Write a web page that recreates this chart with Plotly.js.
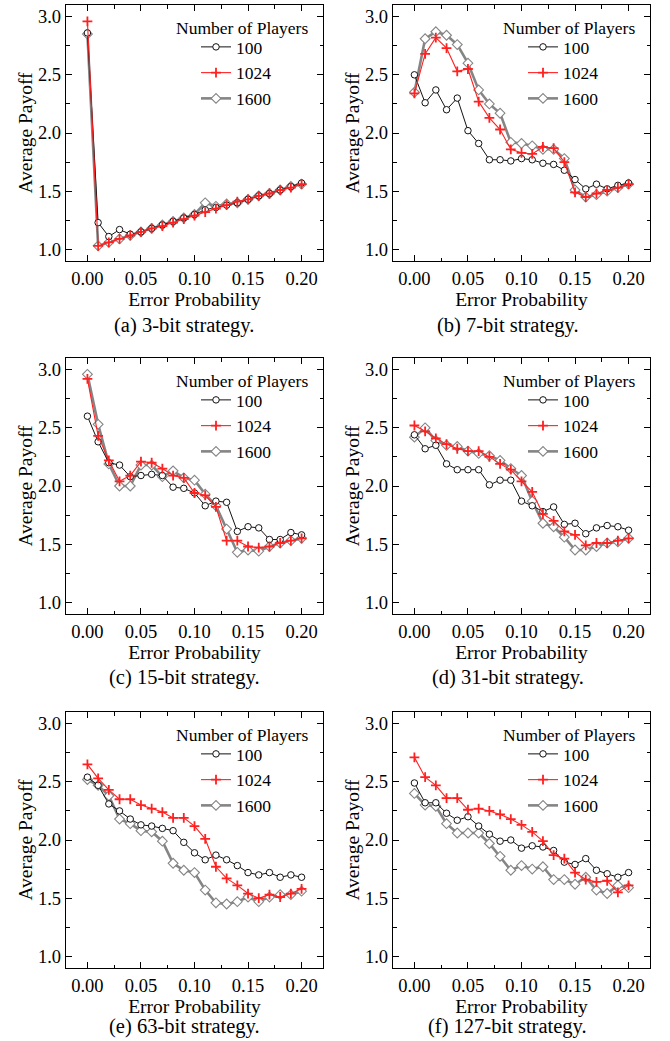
<!DOCTYPE html>
<html>
<head>
<meta charset="utf-8">
<script src="https://cdn.plot.ly/plotly-3.0.1.min.js"></script>
<style>html,body{margin:0;padding:0;background:#fff;}#chart{width:670px;height:1041px;}</style>
</head>
<body>
<div id="chart"></div>
<script>
// Error probability values (x)
const errorProb = [0.00,0.01,0.02,0.03,0.04,0.05,0.06,0.07,0.08,0.09,0.10,0.11,0.12,0.13,0.14,0.15,0.16,0.17,0.18,0.19,0.20];
const seriesNames = ["100", "1024", "1600"];
const captions = ["(a) 3-bit strategy.", "(b) 7-bit strategy.", "(c) 15-bit strategy.", "(d) 31-bit strategy.", "(e) 63-bit strategy.", "(f) 127-bit strategy."];
const xTickVals = [0.00, 0.05, 0.10, 0.15, 0.20];
const yTickVals = [1.0, 1.5, 2.0, 2.5, 3.0];

// (a) 3-bit
const a100  = [2.86,1.23,1.11,1.17,1.13,1.15,1.18,1.21,1.24,1.27,1.30,1.34,1.36,1.38,1.40,1.43,1.46,1.48,1.51,1.54,1.57];
const a1024 = [2.96,1.03,1.06,1.09,1.12,1.15,1.18,1.20,1.23,1.26,1.29,1.32,1.35,1.38,1.41,1.43,1.46,1.48,1.51,1.53,1.56];
const a1600 = [2.85,1.03,1.06,1.09,1.12,1.15,1.18,1.21,1.24,1.27,1.30,1.40,1.37,1.39,1.40,1.43,1.46,1.48,1.51,1.54,1.56];
// (b) 7-bit
const b100  = [2.50,2.26,2.37,2.20,2.30,2.02,1.91,1.77,1.77,1.76,1.78,1.77,1.74,1.73,1.68,1.60,1.52,1.56,1.52,1.55,1.57];
const b1024 = [2.34,2.68,2.82,2.73,2.53,2.55,2.27,2.13,2.03,1.86,1.83,1.82,1.88,1.87,1.75,1.49,1.45,1.48,1.51,1.53,1.56];
const b1600 = [2.35,2.81,2.87,2.84,2.76,2.60,2.37,2.25,2.17,1.92,1.91,1.89,1.86,1.86,1.78,1.51,1.45,1.47,1.50,1.53,1.56];
// (c) 15-bit
const c100  = [2.60,2.38,2.20,2.18,2.08,2.09,2.10,2.09,1.99,1.98,1.94,1.83,1.87,1.86,1.61,1.65,1.64,1.54,1.54,1.60,1.58];
const c1024 = [2.92,2.43,2.22,2.04,2.09,2.21,2.20,2.15,2.09,2.07,1.94,1.92,1.82,1.53,1.53,1.48,1.47,1.48,1.51,1.53,1.55];
const c1600 = [2.96,2.53,2.19,2.00,2.00,2.18,2.18,2.08,2.13,2.07,2.05,1.93,1.83,1.63,1.43,1.45,1.44,1.48,1.51,1.53,1.55];
// (d) 31-bit
const d100  = [2.44,2.32,2.35,2.19,2.14,2.14,2.14,2.01,2.05,2.05,1.87,1.83,1.78,1.82,1.67,1.68,1.59,1.64,1.66,1.65,1.62];
const d1024 = [2.52,2.47,2.41,2.36,2.32,2.30,2.30,2.25,2.19,2.14,2.04,1.95,1.76,1.70,1.61,1.58,1.49,1.51,1.51,1.53,1.55];
const d1600 = [2.42,2.50,2.39,2.35,2.34,2.30,2.28,2.26,2.22,2.15,2.09,1.87,1.68,1.65,1.56,1.45,1.45,1.48,1.51,1.52,1.55];
// (e) 63-bit
const e100  = [2.54,2.47,2.31,2.25,2.18,2.13,2.12,2.10,2.08,1.98,1.89,1.83,1.87,1.83,1.78,1.72,1.70,1.72,1.68,1.70,1.68];
const e1024 = [2.65,2.53,2.43,2.35,2.35,2.30,2.27,2.24,2.19,2.19,2.12,2.01,1.77,1.67,1.61,1.54,1.50,1.53,1.51,1.54,1.58];
const e1600 = [2.52,2.47,2.38,2.18,2.14,2.08,2.07,1.99,1.80,1.74,1.72,1.57,1.46,1.45,1.47,1.51,1.47,1.51,1.53,1.53,1.56];
// (f) 127-bit
const f100  = [2.49,2.32,2.32,2.23,2.17,2.20,2.12,2.05,1.99,2.00,1.93,1.95,1.94,1.91,1.81,1.79,1.84,1.74,1.71,1.68,1.72];
const f1024 = [2.71,2.54,2.47,2.36,2.36,2.26,2.27,2.25,2.22,2.18,2.13,2.07,1.99,1.87,1.84,1.72,1.66,1.64,1.65,1.55,1.61];
const f1600 = [2.40,2.30,2.29,2.14,2.06,2.06,2.06,1.97,1.86,1.74,1.78,1.75,1.77,1.66,1.66,1.62,1.68,1.57,1.54,1.61,1.59];

const panels = [
  [a100, a1024, a1600], [b100, b1024, b1600],
  [c100, c1024, c1600], [d100, d1024, d1600],
  [e100, e1024, e1600], [f100, f1024, f1600]
];

const W = 670, H = 1041;
const FONT = "Liberation Serif, Times New Roman, serif";
const colLeft = [66, 393], boxW = 257;
const rowTop = [5, 358, 712], boxH = 256;
const captionY = [325, 677, 1026];

const styles = {
  "100":  {line: {color: "#111111", width: 1}, marker: {symbol: "circle", size: 6.5, color: "#ffffff", line: {color: "#111111", width: 1}}, rank: 1},
  "1024": {line: {color: "#ff2020", width: 1.1}, marker: {symbol: "cross-thin", size: 7, color: "#ff2020", line: {color: "#ff2020", width: 1.8}}, rank: 2},
  "1600": {line: {color: "#858585", width: 2.6}, marker: {symbol: "diamond", size: 7.5, color: "#ffffff", line: {color: "#858585", width: 1.1}}, rank: 3}
};
const drawOrder = [2, 0, 1]; // 1600 bottom, 100, 1024 top

const data = [];
const layout = {
  width: W, height: H,
  margin: {l: 0, r: 0, t: 0, b: 0},
  paper_bgcolor: "#ffffff", plot_bgcolor: "#ffffff",
  font: {family: FONT, size: 18, color: "#000"},
  annotations: [],
  showlegend: true
};

panels.forEach((series, p) => {
  const col = p % 2, row = Math.floor(p / 2);
  const sfx = p === 0 ? "" : String(p + 1);
  const xa = "x" + sfx, ya = "y" + sfx;
  const legName = "legend" + sfx;
  const x0 = colLeft[col], y0 = rowTop[row];

  drawOrder.forEach(si => {
    const name = seriesNames[si];
    const st = styles[name];
    data.push({
      type: "scatter", mode: "lines+markers",
      x: errorProb, y: series[si], name: name,
      xaxis: xa, yaxis: ya, legend: legName, legendrank: st.rank,
      line: st.line, marker: st.marker, cliponaxis: false
    });
  });

  const axCommon = {
    showgrid: false, zeroline: false, showline: true, linecolor: "#000", linewidth: 1.3,
    mirror: "allticks", ticks: "inside", ticklen: 6, tickwidth: 1, tickcolor: "#000",
    tickfont: {family: FONT, size: 18.5, color: "#000"}
  };
  layout["xaxis" + sfx] = Object.assign({}, axCommon, {
    domain: [x0 / W, (x0 + boxW) / W], anchor: ya,
    range: [-0.02, 0.22], tickvals: xTickVals, tickformat: ".2f",
    minor: {dtick: 0.025, tick0: 0, ticks: "inside", ticklen: 3.5, tickcolor: "#000", showgrid: false},
    title: {text: "Error Probability", font: {family: FONT, size: 19.5, color: "#000"}, standoff: 0}
  });
  layout["yaxis" + sfx] = Object.assign({}, axCommon, {
    domain: [1 - (y0 + boxH) / H, 1 - y0 / H], anchor: xa,
    range: [0.9, 3.1], tickvals: yTickVals, tickformat: ".1f",
    minor: {dtick: 0.25, tick0: 0, ticks: "inside", ticklen: 3.5, tickcolor: "#000", showgrid: false},
    title: {text: "Average Payoff", font: {family: FONT, size: 19.5, color: "#000"}, standoff: 0}
  });
  layout[legName] = {
    x: (x0 + 130) / W, xanchor: "left",
    y: 1 - (y0 + 24) / H, yanchor: "top",
    bgcolor: "rgba(0,0,0,0)", borderwidth: 0,
    font: {family: FONT, size: 17.5, color: "#000"},
    traceorder: "normal"
  };
  layout.annotations.push({
    xref: "paper", yref: "paper", x: (x0 + 176) / W, y: 1 - (y0 + 23) / H,
    xanchor: "center", yanchor: "middle", showarrow: false,
    text: "Number of Players", font: {family: FONT, size: 17.5, color: "#000"}
  });
  layout.annotations.push({
    xref: "paper", yref: "paper", x: (col === 0 ? 184 : 508) / W, y: 1 - captionY[row] / H,
    xanchor: "center", yanchor: "middle", showarrow: false,
    text: captions[p], font: {family: FONT, size: 20.5, color: "#000"}
  });
});

Plotly.newPlot("chart", data, layout, {displayModeBar: false, staticPlot: true});
</script>
</body>
</html>
